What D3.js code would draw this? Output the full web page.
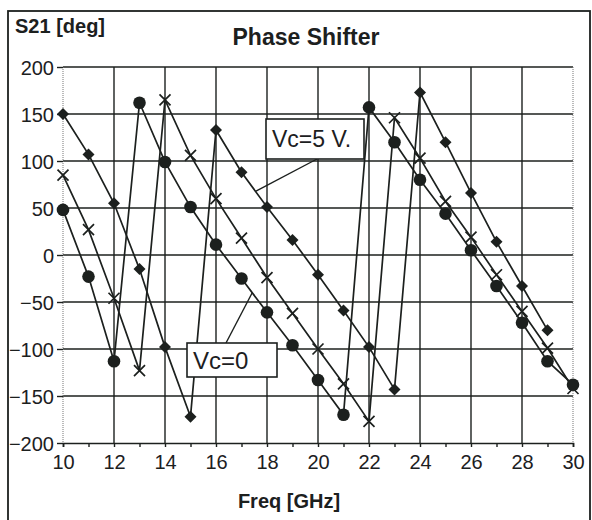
<!DOCTYPE html>
<meta charset="utf-8">
<html>
<head>
  <script src="https://cdnjs.cloudflare.com/ajax/libs/d3/7.8.5/d3.min.js"></script>
</head>
<style>
body { margin: 0; background: #fff; }
text { font-family: "Liberation Sans", Arial, sans-serif; fill: #1c201e; }
.bold { font-weight: bold; }
</style>
<body>
<div id="container"></div>
<script type="text/javascript">

// chart data
var freqs = [10, 11, 12, 13, 14, 15, 16, 17, 18, 19, 20, 21, 22, 23, 24, 25, 26, 27, 28, 29, 30]
var vc5V  = [150, 107, 55, -15, -98, -172, 133, 88, 51, 16, -21, -59, -98, -143, 173, 120, 66, 14, -33, -80, null]
var vcMid = [85, 27, -46, -123, 165, 106, 60, 18, -24, -62, -100, -137, -177, 146, 103, 57, 19, -21, -60, -99, -142]
var vc0   = [48, -23, -113, 162, 99, 51, 11, -25, -61, -96, -133, -170, 157, 120, 80, 44, 5, -33, -72, -113, -138]
var xTicks = [10, 12, 14, 16, 18, 20, 22, 24, 26, 28, 30]
var yTicks = [-200, -150, -100, -50, 0, 50, 100, 150, 200]

var width = 592
var height = 520
var plot = {left: 63, right: 573, top: 67, bottom: 443}
var ink = "#1c201e"

var svg = d3.select("#container").append("svg")
            .attr("width", width)
            .attr("height", height)

// outer frame
svg.append("rect")
   .attr("x", 8).attr("y", 11)
   .attr("width", 582).attr("height", 530)
   .attr("fill", "none")
   .attr("stroke", ink)
   .attr("stroke-width", 1.8)

var x = d3.scaleLinear().domain([10, 30]).range([plot.left, plot.right])
var y = d3.scaleLinear().domain([-200, 200]).range([plot.bottom, plot.top])

// horizontal grid
svg.selectAll("hgrid")
   .data(yTicks.filter((d) => d > -200))
   .enter().append("line")
   .attr("x1", plot.left).attr("x2", plot.right)
   .attr("y1", (d) => y(d)).attr("y2", (d) => y(d))
   .attr("stroke", ink).attr("stroke-width", 1.5)

// vertical grid, the two outer ones are dotted
svg.selectAll("vgrid")
   .data(xTicks)
   .enter().append("line")
   .attr("x1", (d) => x(d)).attr("x2", (d) => x(d))
   .attr("y1", plot.top).attr("y2", plot.bottom)
   .attr("stroke", (d) => (d == 10 || d == 30) ? "#777" : ink)
   .attr("stroke-width", (d) => (d == 10 || d == 30) ? 1 : 1.4)
   .attr("stroke-dasharray", (d) => (d == 10 || d == 30) ? "1,1" : null)

// y axis
var yAxis = d3.axisLeft(y).tickValues(yTicks).tickSize(6).tickPadding(3)
var gy = svg.append("g").attr("transform", "translate(" + plot.left + ",0)").call(yAxis)
gy.select(".domain").remove()
gy.selectAll("line").attr("stroke", ink).attr("stroke-width", 1.4)
gy.selectAll("text").attr("font-size", "20px").attr("fill", ink).attr("dy", "0.36em")

// x axis with minor ticks at every GHz
var xAxis = d3.axisBottom(x).tickValues(freqs).tickSize(4).tickPadding(8)
              .tickFormat((d) => d % 2 == 0 ? d : "")
var gx = svg.append("g").attr("transform", "translate(0," + plot.bottom + ")").call(xAxis)
gx.select(".domain").attr("stroke", ink).attr("stroke-width", 1.6)
gx.selectAll("line").attr("stroke", ink).attr("stroke-width", 1.4)
gx.selectAll("text").attr("font-size", "20px").attr("fill", ink)

// series
var series = [
  {values: vc5V, marker: "diamond"},
  {values: vcMid, marker: "cross"},
  {values: vc0, marker: "circle"}
]

var line = d3.line()
             .defined((d) => d.v != null)
             .x((d) => x(d.f))
             .y((d) => y(d.v))

series.forEach(function(s) {
  var pts = freqs.map((f, i) => ({f: f, v: s.values[i]}))
  svg.append("path")
     .datum(pts)
     .attr("d", line)
     .attr("fill", "none")
     .attr("stroke", ink)
     .attr("stroke-width", 1.7)

  var shown = pts.filter((d) => d.v != null)
  if (s.marker == "circle") {
    svg.selectAll("c").data(shown).enter().append("circle")
       .attr("cx", (d) => x(d.f)).attr("cy", (d) => y(d.v))
       .attr("r", 6.3).attr("fill", ink)
  } else if (s.marker == "diamond") {
    svg.selectAll("dm").data(shown).enter().append("path")
       .attr("transform", (d) => "translate(" + x(d.f) + "," + y(d.v) + ")")
       .attr("d", "M0,-6L6,0L0,6L-6,0Z")
       .attr("fill", ink)
  } else {
    svg.selectAll("cr").data(shown).enter().append("path")
       .attr("transform", (d) => "translate(" + x(d.f) + "," + y(d.v) + ")")
       .attr("d", "M-5.5,-5.5L5.5,5.5M5.5,-5.5L-5.5,5.5")
       .attr("stroke", ink).attr("stroke-width", 1.7)
  }
})

// callout labels
function callout(label, bx, by, bw, bh, fs, x1, y1, f, v0, v1, t) {
  var tx = x(f + t)
  var ty = y(v0 + (v1 - v0) * t)
  svg.append("line")
     .attr("x1", x1).attr("y1", y1).attr("x2", tx).attr("y2", ty)
     .attr("stroke", ink).attr("stroke-width", 1.4)
  svg.append("rect")
     .attr("x", bx).attr("y", by).attr("width", bw).attr("height", bh)
     .attr("fill", "#fff").attr("stroke", ink).attr("stroke-width", 1.6)
  svg.append("text")
     .attr("x", bx + 6).attr("y", by + bh / 2)
     .attr("dominant-baseline", "central")
     .attr("font-size", fs + "px")
     .text(label)
}
callout("Vc=5 V.", 266, 119, 98, 40, 23, 317, 159, 17, vc5V[7], vc5V[8], 0.55)
callout("Vc=0", 187, 343, 90, 34, 24, 226, 343, 17, vc0[7], vc0[8], 0.42)

// titles
svg.append("text").attr("class", "bold")
   .attr("x", 15).attr("y", 33)
   .attr("font-size", "20px")
   .text("S21 [deg]")

svg.append("text").attr("class", "bold")
   .attr("x", 306).attr("y", 45)
   .attr("text-anchor", "middle")
   .attr("font-size", "23px")
   .text("Phase Shifter")

svg.append("text").attr("class", "bold")
   .attr("x", 289).attr("y", 508)
   .attr("text-anchor", "middle")
   .attr("font-size", "20px")
   .text("Freq [GHz]")

</script>
</body>
</html>
